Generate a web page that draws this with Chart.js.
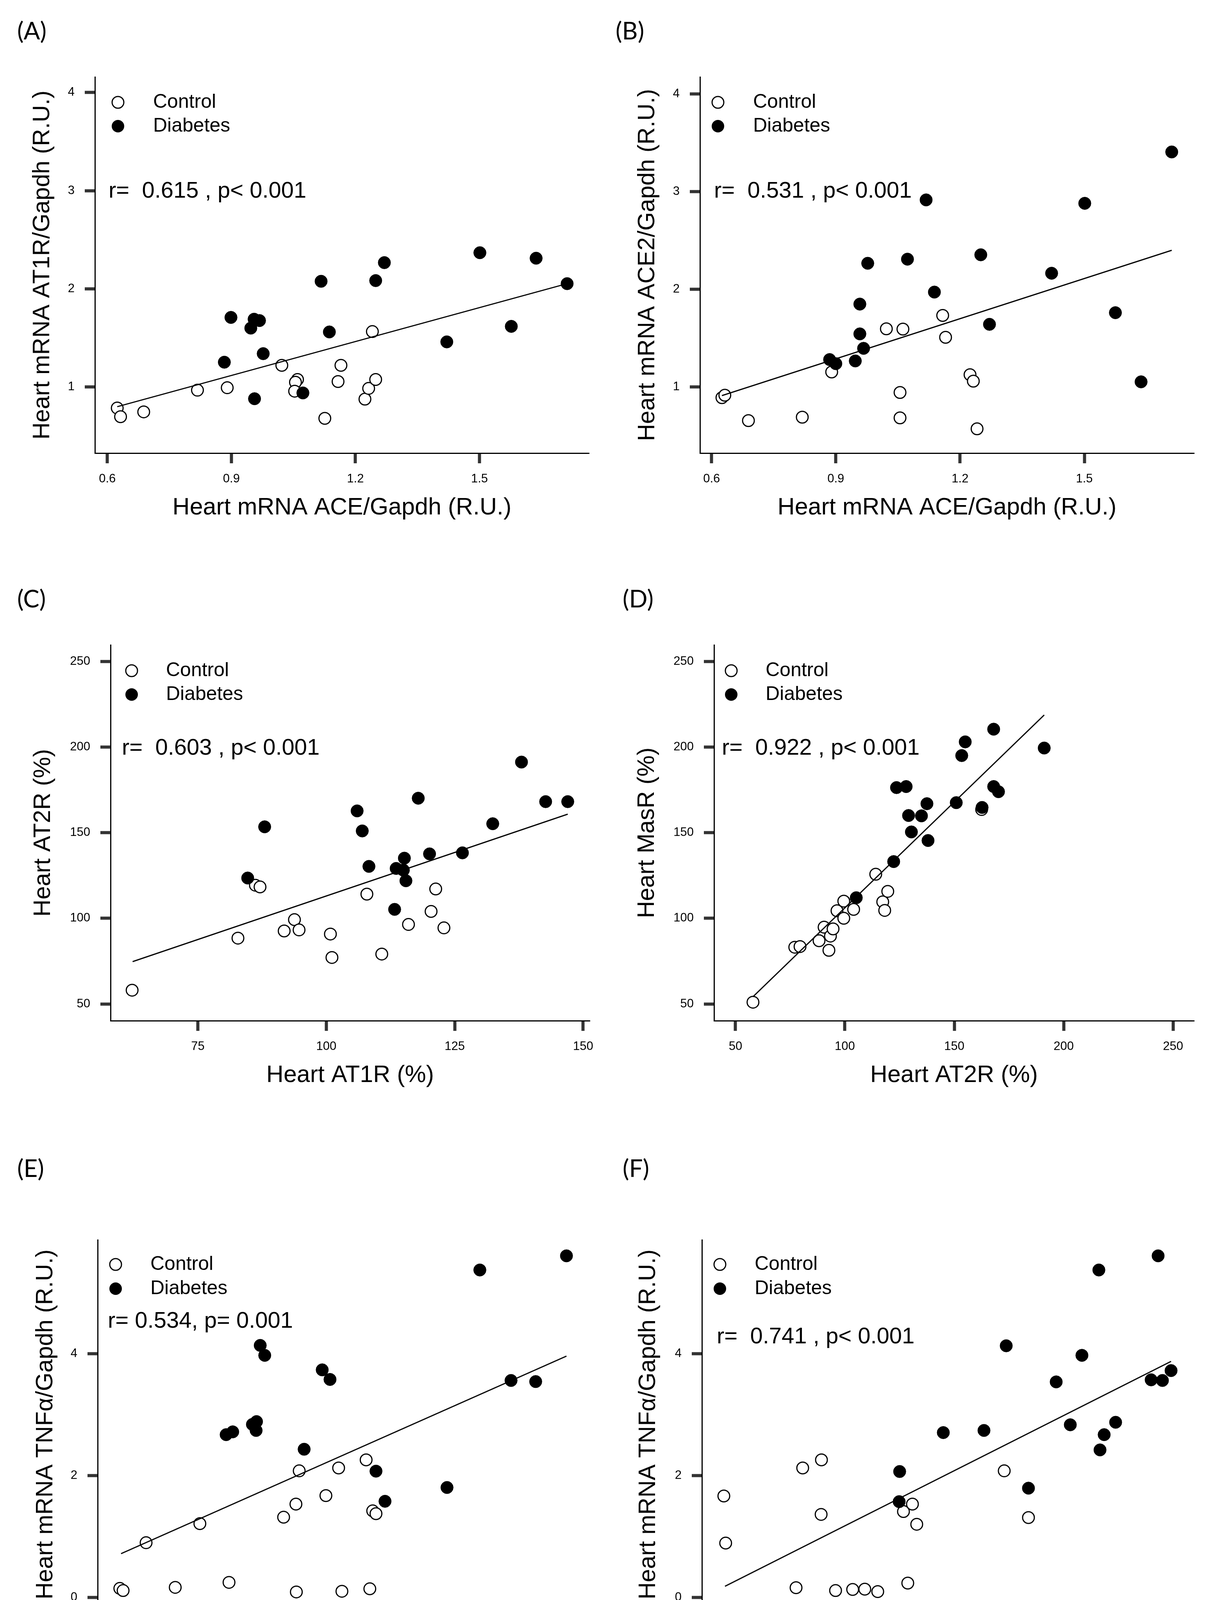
<!DOCTYPE html>
<html>
<head>
<meta charset="utf-8">
<script src="https://cdn.jsdelivr.net/npm/chart.js@4.4.0/dist/chart.umd.min.js"></script>
<style>
    body { margin: 0; background: #fff; width: 3131px; height: 4364px; position: relative; overflow: hidden; }
    canvas { position: absolute; }
    .tag { position: absolute; font-family: Lato, 'Open Sans', sans-serif; font-size: 62px; line-height: 1; color: #000; }
</style>
</head>
<body>
<div class="tag" style="left:44px;top:46px">(A)</div>
<div class="tag" style="left:1576px;top:46px">(B)</div>
<div class="tag" style="left:44px;top:1500px">(C)</div>
<div class="tag" style="left:1594px;top:1500px">(D)</div>
<div class="tag" style="left:44px;top:2958px">(E)</div>
<div class="tag" style="left:1594px;top:2958px">(F)</div>

<canvas id="chartA" width="1560" height="1420" style="left:0;top:0"></canvas>
<canvas id="chartB" width="1571" height="1420" style="left:1560px;top:0"></canvas>
<canvas id="chartC" width="1560" height="1440" style="left:0;top:1430px"></canvas>
<canvas id="chartD" width="1571" height="1440" style="left:1560px;top:1430px"></canvas>
<canvas id="chartE" width="1560" height="1424" style="left:0;top:2940px"></canvas>
<canvas id="chartF" width="1571" height="1424" style="left:1560px;top:2940px"></canvas>

<script>
// ---- Data ----

// (A) ACE vs AT1R
const aControlX = [0.624, 0.632, 0.688, 0.818, 0.890, 1.022, 1.060, 1.055, 1.053, 1.126, 1.158, 1.165, 1.223, 1.232, 1.241, 1.249];
const aControlY = [0.786, 0.698, 0.747, 0.968, 0.993, 1.221, 1.077, 1.049, 0.958, 0.681, 1.056, 1.221, 0.877, 0.986, 1.565, 1.077];
const aDiabetesX = [0.883, 0.899, 0.947, 0.955, 0.968, 0.956, 0.977, 1.073, 1.117, 1.137, 1.249, 1.270, 1.421, 1.501, 1.577, 1.637, 1.712];
const aDiabetesY = [1.253, 1.709, 1.600, 1.691, 1.677, 0.881, 1.340, 0.940, 2.077, 1.561, 2.084, 2.267, 1.460, 2.368, 1.618, 2.312, 2.053];
const aFitX = [0.624, 1.712];
const aFitY = [0.800, 2.053];

// (B) ACE vs ACE2
const bControlX = [0.625, 0.632, 0.689, 0.819, 0.890, 1.022, 1.062, 1.055, 1.055, 1.158, 1.165, 1.224, 1.232, 1.241];
const bControlY = [0.891, 0.916, 0.656, 0.691, 1.154, 1.596, 1.593, 0.944, 0.684, 1.733, 1.509, 1.126, 1.060, 0.572];
const bDiabetesX = [0.885, 0.900, 0.947, 0.958, 0.958, 0.967, 0.977, 1.073, 1.118, 1.138, 1.250, 1.271, 1.421, 1.501, 1.575, 1.637, 1.711];
const bDiabetesY = [1.281, 1.239, 1.267, 1.544, 1.849, 1.396, 2.267, 2.309, 2.916, 1.972, 2.354, 1.642, 2.165, 2.881, 1.761, 1.053, 3.407];
const bFitX = [0.625, 1.711];
const bFitY = [0.912, 2.400];

// (C) AT1R vs AT2R
const cControlX = [62.2, 82.8, 86.2, 87.1, 91.8, 93.8, 94.7, 100.8, 101.1, 107.9, 110.8, 116.0, 120.4, 121.3, 122.9];
const cControlY = [58.0, 88.4, 119.3, 118.3, 92.6, 99.2, 93.2, 90.8, 77.1, 114.1, 79.1, 96.4, 104.0, 117.1, 94.4];
const cDiabetesX = [84.7, 88.0, 106.0, 107.0, 108.3, 113.6, 115.0, 115.2, 115.5, 113.3, 117.9, 120.1, 126.5, 132.4, 138.0, 142.7, 147.0];
const cDiabetesY = [123.5, 153.4, 162.7, 151.0, 130.3, 129.1, 128.1, 135.1, 121.9, 105.2, 170.1, 137.6, 138.2, 155.2, 191.2, 168.1, 168.1];
const cFitX = [62.3, 147.0];
const cFitY = [74.7, 160.8];

// (D) AT2R vs MasR
const dControlX = [58.0, 77.1, 79.5, 88.2, 90.5, 92.7, 93.4, 94.6, 96.4, 99.5, 99.5, 104.0, 114.1, 117.3, 118.2, 119.6, 162.5];
const dControlY = [51.0, 83.1, 83.5, 86.9, 94.8, 81.3, 89.6, 93.8, 104.4, 100.0, 110.0, 105.2, 125.7, 109.6, 104.6, 115.7, 163.5];
const dDiabetesX = [105.2, 122.3, 123.6, 128.0, 129.1, 130.4, 135.0, 137.5, 138.0, 150.9, 153.4, 155.0, 162.7, 168.0, 168.0, 170.2, 191.1];
const dDiabetesY = [112.0, 133.1, 176.3, 176.9, 160.0, 150.4, 159.8, 166.9, 145.4, 167.5, 195.0, 203.0, 164.7, 210.4, 176.9, 173.9, 199.4];
const dFitX = [58.0, 191.1];
const dFitY = [54.2, 218.7];

// (E) ACE vs TNFa
const eControlX = [0.624, 0.632, 0.688, 0.759, 0.819, 0.890, 1.023, 1.053, 1.054, 1.061, 1.126, 1.157, 1.165, 1.224, 1.233, 1.240, 1.248];
const eControlY = [0.151, 0.116, 0.900, 0.168, 1.213, 0.250, 1.318, 1.533, 0.093, 2.078, 1.672, 2.125, 0.104, 2.258, 0.145, 1.422, 1.376];
const eDiabetesX = [0.883, 0.899, 0.947, 0.957, 0.956, 0.966, 0.977, 1.073, 1.117, 1.136, 1.248, 1.270, 1.421, 1.501, 1.577, 1.637, 1.712];
const eDiabetesY = [2.671, 2.717, 2.839, 2.885, 2.740, 4.134, 3.971, 2.432, 3.733, 3.576, 2.073, 1.579, 1.805, 5.370, 3.559, 3.541, 5.602];
const eFitX = [0.627, 1.712];
const eFitY = [0.720, 3.959];

// (F) ADAM17 vs TNFa
const fControlX = [0.165, 0.176, 0.600, 0.640, 0.753, 0.751, 0.838, 0.941, 1.014, 1.092, 1.247, 1.273, 1.301, 1.327, 1.854, 2.000];
const fControlY = [1.666, 0.894, 0.163, 2.125, 2.258, 1.364, 0.116, 0.134, 0.139, 0.099, 1.411, 0.238, 1.533, 1.202, 2.078, 1.312];
const fDiabetesX = [1.221, 1.224, 1.487, 1.732, 1.866, 2.000, 2.167, 2.252, 2.322, 2.424, 2.431, 2.456, 2.525, 2.739, 2.781, 2.807, 2.859];
const fDiabetesY = [1.573, 2.067, 2.705, 2.740, 4.128, 1.794, 3.536, 2.833, 3.971, 5.370, 2.421, 2.671, 2.874, 3.570, 5.602, 3.559, 3.721];
const fFitX = [0.172, 2.859];
const fFitY = [0.186, 3.872];

// Tick labels
const aceTicks = [0.6, 0.9, 1.2, 1.5];
const ruTicks = [1, 2, 3, 4];
const pctTicks = [50, 100, 150, 200, 250];
const at1rTicks = [75, 100, 125, 150];
const tnfTicks = [0, 2, 4];
const adamTicks = [1, 2];

const legendLabels = ['Control', 'Diabetes'];

// ---- Drawing helpers ----
const textFont = "'Liberation Sans', Arial, sans-serif";

function toPoints(xs, ys) {
    return xs.map((x, i) => ({ x: x, y: ys[i] }));
}

// Legend, r/p annotation and axis titles, placed relative to the plot area
const panelTextPlugin = {
    id: 'panelText',
    afterDraw(chart) {
        const o = chart.options.plugins.panelText;
        const area = chart.chartArea;
        const ctx = chart.ctx;
        ctx.save();
        ctx.fillStyle = '#000';
        ctx.strokeStyle = '#000';

        // legend
        ctx.lineWidth = 3;
        ctx.beginPath();
        ctx.arc(area.left + o.legendDx, area.top + o.legendDy[0], 15, 0, Math.PI * 2);
        ctx.fillStyle = '#fff';
        ctx.fill();
        ctx.stroke();
        ctx.fillStyle = '#000';
        ctx.beginPath();
        ctx.arc(area.left + o.legendDx, area.top + o.legendDy[1], 16, 0, Math.PI * 2);
        ctx.fill();
        ctx.font = '50px ' + textFont;
        ctx.textBaseline = 'middle';
        ctx.textAlign = 'left';
        ctx.fillText(legendLabels[0], area.left + o.legendTextDx, area.top + o.legendDy[0]);
        ctx.fillText(legendLabels[1], area.left + o.legendTextDx, area.top + o.legendDy[1]);

        // correlation text
        ctx.font = '58px ' + textFont;
        ctx.fillText(o.stat, area.left + o.statDx, area.top + o.statDy);

        // axis titles
        ctx.font = '61px ' + textFont;
        ctx.textAlign = 'center';
        ctx.fillText(o.xTitle, (area.left + area.right) / 2, area.bottom + o.xTitleDy);
        ctx.translate(area.left + o.yTitleDx, (area.top + area.bottom) / 2);
        ctx.rotate(-Math.PI / 2);
        ctx.fillText(o.yTitle, 0, 0);
        ctx.restore();
    }
};

function axis(min, max, ticks, fitSize, horizontal) {
    return {
        type: 'linear',
        min: min,
        max: max,
        afterBuildTicks: scale => { scale.ticks = ticks.map(v => ({ value: v })); },
        afterFit: scale => {
            if (horizontal) scale.height = fitSize; else scale.width = fitSize;
            scale.paddingLeft = 0; scale.paddingRight = 0;
            scale.paddingTop = 0; scale.paddingBottom = 0;
        },
        ticks: {
            callback: v => String(v),
            font: { family: textFont, size: 31 },
            color: '#000',
            padding: horizontal ? 22 : 26,
            maxRotation: 0,
            autoSkip: false
        },
        grid: {
            drawOnChartArea: false,
            drawTicks: true,
            tickLength: 26,
            tickWidth: 8,
            tickColor: '#333'
        },
        border: { display: true, color: '#000', width: 3 }
    };
}

function makePanel(id, p) {
    const canvas = document.getElementById(id);
    return new Chart(canvas, {
        type: 'scatter',
        data: {
            datasets: [
                {
                    label: 'fit',
                    data: toPoints(p.fitX, p.fitY),
                    showLine: true,
                    borderColor: '#000',
                    borderWidth: 3,
                    pointRadius: 0,
                    order: 0
                },
                {
                    label: 'Diabetes',
                    data: toPoints(p.diabX, p.diabY),
                    pointRadius: 16,
                    pointBackgroundColor: '#000',
                    pointBorderColor: '#000',
                    pointBorderWidth: 1,
                    order: 1
                },
                {
                    label: 'Control',
                    data: toPoints(p.ctrlX, p.ctrlY),
                    pointRadius: 15,
                    pointBackgroundColor: '#fff',
                    pointBorderColor: '#000',
                    pointBorderWidth: 3,
                    order: 2
                }
            ]
        },
        options: {
            responsive: false,
            animation: false,
            devicePixelRatio: 1,
            layout: { padding: { left: 0, top: p.top, right: canvas.width - p.right, bottom: 0 } },
            scales: {
                x: axis(p.xMin, p.xMax, p.xTicks, canvas.height - p.bottom, true),
                y: axis(p.yMin, p.yMax, p.yTicks, p.left, false)
            },
            plugins: {
                legend: { display: false },
                tooltip: { enabled: false },
                panelText: p.text
            }
        },
        plugins: [panelTextPlugin]
    });
}

document.addEventListener('DOMContentLoaded', function() {
    makePanel('chartA', {
        ctrlX: aControlX, ctrlY: aControlY, diabX: aDiabetesX, diabY: aDiabetesY, fitX: aFitX, fitY: aFitY,
        xMin: 0.570, xMax: 1.765, yMin: 0.327, yMax: 4.158, xTicks: aceTicks, yTicks: ruTicks,
        left: 243, top: 197, right: 1508, bottom: 1160,
        text: { legendDx: 59, legendTextDx: 149, legendDy: [65, 126], stat: 'r=  0.615 , p< 0.001', statDx: 35, statDy: 293,
                xTitle: 'Heart mRNA ACE/Gapdh (R.U.)', xTitleDy: 140, yTitle: 'Heart mRNA AT1R/Gapdh (R.U.)', yTitleDx: -134 }
    });

    makePanel('chartB', {
        ctrlX: bControlX, ctrlY: bControlY, diabX: bDiabetesX, diabY: bDiabetesY, fitX: bFitX, fitY: bFitY,
        xMin: 0.572, xMax: 1.765, yMin: 0.323, yMax: 4.175, xTicks: aceTicks, yTicks: ruTicks,
        left: 232, top: 197, right: 1497, bottom: 1160,
        text: { legendDx: 46, legendTextDx: 136, legendDy: [65, 126], stat: 'r=  0.531 , p< 0.001', statDx: 36, statDy: 293,
                xTitle: 'Heart mRNA ACE/Gapdh (R.U.)', xTitleDy: 140, yTitle: 'Heart mRNA ACE2/Gapdh (R.U.)', yTitleDx: -134 }
    });

    makePanel('chartC', {
        ctrlX: cControlX, ctrlY: cControlY, diabX: cDiabetesX, diabY: cDiabetesY, fitX: cFitX, fitY: cFitY,
        xMin: 58.0, xMax: 151.3, yMin: 40.2, yMax: 259.6, xTicks: at1rTicks, yTicks: pctTicks,
        left: 283, top: 221, right: 1510, bottom: 1183,
        text: { legendDx: 54, legendTextDx: 142, legendDy: [66, 127], stat: 'r=  0.603 , p< 0.001', statDx: 29, statDy: 265,
                xTitle: 'Heart AT1R (%)', xTitleDy: 140, yTitle: 'Heart AT2R (%)', yTitleDx: -172 }
    });

    makePanel('chartD', {
        ctrlX: dControlX, ctrlY: dControlY, diabX: dDiabetesX, diabY: dDiabetesY, fitX: dFitX, fitY: dFitY,
        xMin: 40.2, xMax: 259.6, yMin: 40.2, yMax: 259.6, xTicks: pctTicks, yTicks: pctTicks,
        left: 268, top: 221, right: 1497, bottom: 1183,
        text: { legendDx: 44, legendTextDx: 132, legendDy: [66, 127], stat: 'r=  0.922 , p< 0.001', statDx: 20, statDy: 265,
                xTitle: 'Heart AT2R (%)', xTitleDy: 140, yTitle: 'Heart MasR (%)', yTitleDx: -171 }
    });

    makePanel('chartE', {
        ctrlX: eControlX, ctrlY: eControlY, diabX: eDiabetesX, diabY: eDiabetesY, fitX: eFitX, fitY: eFitY,
        xMin: 0.570, xMax: 1.767, yMin: -0.186, yMax: 5.864, xTicks: aceTicks, yTicks: tnfTicks,
        left: 250, top: 234, right: 1508, bottom: 1179,
        text: { legendDx: 46, legendTextDx: 135, legendDy: [63, 125], stat: 'r= 0.534, p= 0.001', statDx: 26, statDy: 209,
                xTitle: 'Heart mRNA ACE/Gapdh (R.U.)', xTitleDy: 150, yTitle: 'Heart mRNA TNF\u03b1/Gapdh (R.U.)', yTitleDx: -133 }
    });

    makePanel('chartF', {
        ctrlX: fControlX, ctrlY: fControlY, diabX: fDiabetesX, diabY: fDiabetesY, fitX: fFitX, fitY: fFitY,
        xMin: 0.033, xMax: 2.993, yMin: -0.186, yMax: 5.864, xTicks: adamTicks, yTicks: tnfTicks,
        left: 237, top: 234, right: 1495, bottom: 1179,
        text: { legendDx: 46, legendTextDx: 135, legendDy: [63, 125], stat: 'r=  0.741 , p< 0.001', statDx: 38, statDy: 249,
                xTitle: 'Heart mRNA ADAM17/Gapdh (R.U.)', xTitleDy: 150, yTitle: 'Heart mRNA TNF\u03b1/Gapdh (R.U.)', yTitleDx: -137 }
    });
});
</script>
</body>
</html>
